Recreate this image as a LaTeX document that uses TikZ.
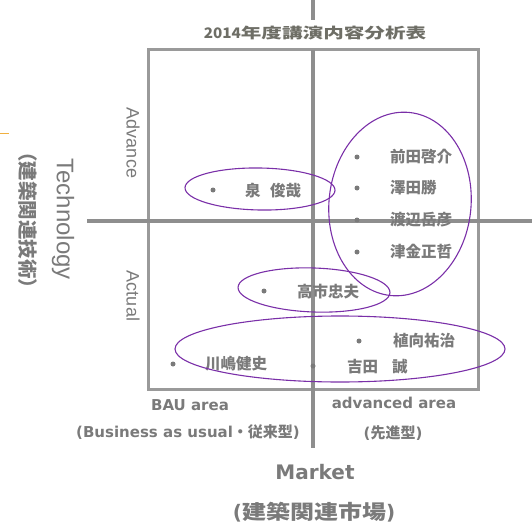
\documentclass[tikz,border=0pt]{standalone}
\usepackage{fontspec}
\newfontfamily\jp{Noto Sans CJK JP}
\newfontfamily\dv{DejaVu Sans}
\newfontfamily\ar{Liberation Sans}
\definecolor{axisgray}{HTML}{8E8E8E}
\definecolor{boxgray}{HTML}{9A9A9A}
\definecolor{txtgray}{HTML}{7A7A7A}
\definecolor{titlegray}{HTML}{6E6E66}
\definecolor{ringpurple}{HTML}{7A2FA8}
\definecolor{tickorange}{HTML}{F0B040}
\begin{document}
\begin{tikzpicture}[x=1pt,y=-1pt,
  axisln/.style={draw=axisgray,line width=3.4pt},
  framebox/.style={draw=boxgray,line width=3pt},
  ringln/.style={draw=ringpurple,line width=1.1pt},
  dotmark/.style={circle,fill=txtgray,inner sep=0pt,minimum size=5pt},
  person/.style={anchor=west,inner sep=0pt,text=txtgray,font=\jp\bfseries\fontsize{15.5}{16}\selectfont},
  lab/.style={inner sep=0pt,text=txtgray,font=\dv\bfseries\fontsize{15}{16}\selectfont},
  sidelab/.style={inner sep=0pt,text=txtgray,rotate=-90,font=\ar\fontsize{18}{19}\selectfont}]
\useasboundingbox (0,0) rectangle (532,524);
% axes and frame
\draw[framebox] (148,50) rectangle (478,389);
\coordinate (vtop) at (313,0);
\coordinate (vtopend) at (313,20);
\coordinate (vmid) at (313,50);
\coordinate (vbot) at (313,448);
\coordinate (hl) at (87,221);
\coordinate (hr) at (532,221);
\draw[axisln] (vtop) -- (vtopend);
\draw[axisln] (vmid) -- (vbot);
\draw[axisln] (hl) -- (hr);
\coordinate (ta) at (0,133);
\coordinate (tb) at (9,133);
\draw[tickorange,line width=1pt] (ta) -- (tb);
% title
\node[inner sep=0pt,text=titlegray,font=\jp\bfseries\fontsize{14.5}{15}\selectfont] (title) at (315,33)
  {\scalebox{1.05}[1]{2014}\scalebox{1.42}[1]{年度講演内容分析表}};
% side labels
\node[sidelab] (adv) at (133,143) {Advance};
\node[sidelab] (act) at (133,296) {Actual};
\node[sidelab,font=\ar\fontsize{24}{25}\selectfont] (tech) at (63,219) {Technology};
\node[sidelab,font=\jp\bfseries\fontsize{19.5}{20}\selectfont] (techjp) at (28,220) {（建築関連技術）};
% bottom labels
\node[lab] (bau) at (190,405) {BAU area};
\node[lab] (advarea) at (394,403) {advanced area};
\node[lab] (baujp) at (188,432) {(Business as usual{\jp\bfseries ・従来型})};
\node[lab] (advjp) at (393,433) {(\jp\bfseries 先進型\dv\bfseries )};
\node[lab,font=\dv\bfseries\fontsize{20}{21}\selectfont] (market) at (315,472) {Market};
\node[lab,font=\dv\bfseries\fontsize{20}{21}\selectfont] (marketjp) at (314,512)
  {(\scalebox{1.2}[1]{\jp\bfseries 建築関連市場})};
% names
\node[dotmark] (d1) at (213,190) {};
\node[person] (n1) at (245,191) {泉\hspace{0.6em}俊哉};
\node[dotmark] (d2) at (357,157) {};
\node[person] (n2) at (390,157) {前田啓介};
\node[dotmark] (d3) at (357,188) {};
\node[person] (n3) at (390,188) {澤田勝};
\node[dotmark] (d4) at (357,220) {};
\node[person] (n4) at (390,220) {渡辺岳彦};
\node[dotmark] (d5) at (357,252) {};
\node[person] (n5) at (390,252) {津金正哲};
\node[dotmark] (d6) at (264,291) {};
\node[person] (n6) at (297,292) {高市忠夫};
\node[dotmark] (d7) at (359,341) {};
\node[person] (n7) at (393,341) {植向祐治};
\node[dotmark] (d8) at (173,364) {};
\node[person] (n8) at (205,364) {川嶋健史};
\node[dotmark] (d9) at (313,366) {};
\node[person] (n9) at (347,367) {吉田\hspace{0.9em}誠};
% group rings
\draw[ringln,shift={(260,189)},rotate=-1] (0,0) ellipse [x radius=75, y radius=21];
\draw[ringln,shift={(400,204)},rotate=-6] (0,0) ellipse [x radius=71, y radius=92];
\draw[ringln,shift={(314,290)},rotate=-2] (0,0) ellipse [x radius=76, y radius=22];
\draw[ringln,shift={(340,349)},rotate=0] (0,0) ellipse [x radius=165, y radius=33];
\end{tikzpicture}
\end{document}
